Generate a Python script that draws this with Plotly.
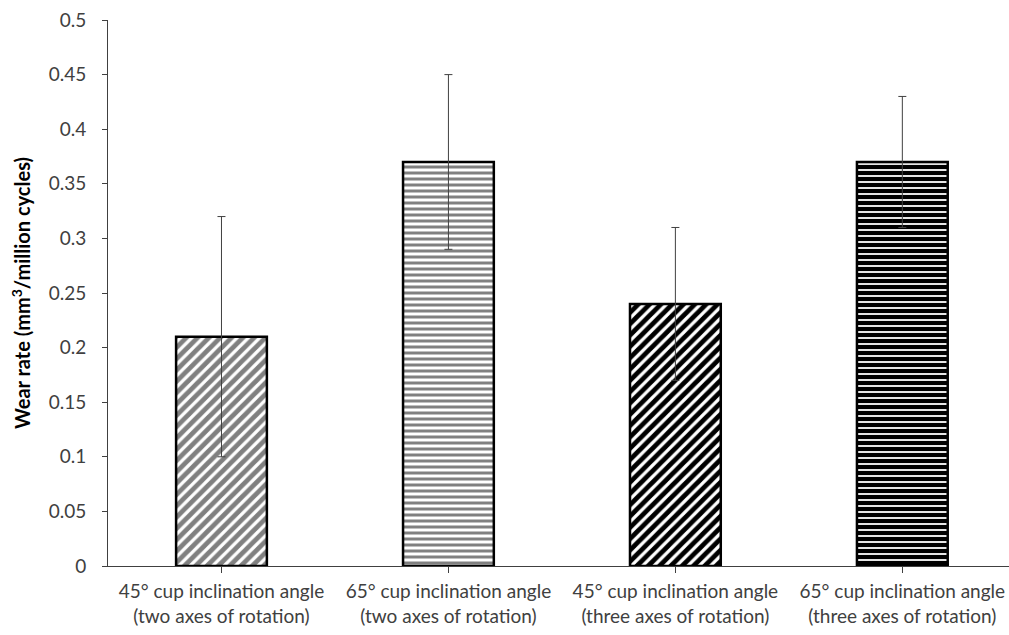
import plotly.graph_objects as go

# Wear rate per test condition
categories = [
    "45° cup inclination angle<br>(two axes of rotation)",
    "65° cup inclination angle<br>(two axes of rotation)",
    "45° cup inclination angle<br>(three axes of rotation)",
    "65° cup inclination angle<br>(three axes of rotation)",
]
wear_rate = [0.21, 0.37, 0.24, 0.37]
wear_err = [0.11, 0.08, 0.07, 0.06]
y_ticks = [0, 0.05, 0.1, 0.15, 0.2, 0.25, 0.3, 0.35, 0.4, 0.45, 0.5]

pattern_shapes = ["/", "-", "/", "-"]
pattern_fg = ["#808080", "#808080", "#000000", "#000000"]
pattern_solidity = [0.6, 0.5, 0.6, 0.7]
pattern_size = [8, 6, 8, 6]

fig = go.Figure()
fig.add_trace(go.Bar(
    x=list(range(len(categories))),
    y=wear_rate,
    width=0.4,
    marker=dict(
        color="white",
        line=dict(color="black", width=2.5),
        pattern=dict(
            shape=pattern_shapes,
            fgcolor=pattern_fg,
            bgcolor="white",
            solidity=pattern_solidity,
            size=pattern_size,
            fillmode="replace",
        ),
    ),
    error_y=dict(type="data", array=wear_err, visible=True,
                 color="#404040", thickness=1, width=4),
    showlegend=False,
))

font_family = "Lato, 'Noto Sans', sans-serif"

fig.update_layout(
    width=1009, height=635,
    margin=dict(l=108, r=0, t=20, b=69),
    paper_bgcolor="white", plot_bgcolor="white",
    bargap=0.6,
    xaxis=dict(
        range=[-0.5, 3.47],
        tickmode="array",
        tickvals=list(range(len(categories))),
        ticktext=categories,
        tickfont=dict(family=font_family, size=19, color="#404040"),
        showline=True, linecolor="#404040", linewidth=1,
        ticks="outside", tickson="boundaries", ticklen=6, tickcolor="#404040",
        ticklabelstandoff=2,
        showgrid=False, zeroline=False,
    ),
    yaxis=dict(
        range=[0, 0.5],
        tickmode="array",
        tickvals=y_ticks,
        ticktext=[f"{v:g}" for v in y_ticks],
        tickfont=dict(family=font_family, size=19, color="#404040"),
        showline=True, linecolor="#404040", linewidth=1,
        ticks="outside", ticklen=5, tickcolor="#404040",
        ticklabelstandoff=12,
        showgrid=False, zeroline=False,
        title=dict(
            text="<b>Wear rate (mm<sup>3</sup>/million cycles)</b>",
            font=dict(family=font_family, size=20, color="black"),
            standoff=12,
        ),
    ),
)

fig.write_html("out.html")
